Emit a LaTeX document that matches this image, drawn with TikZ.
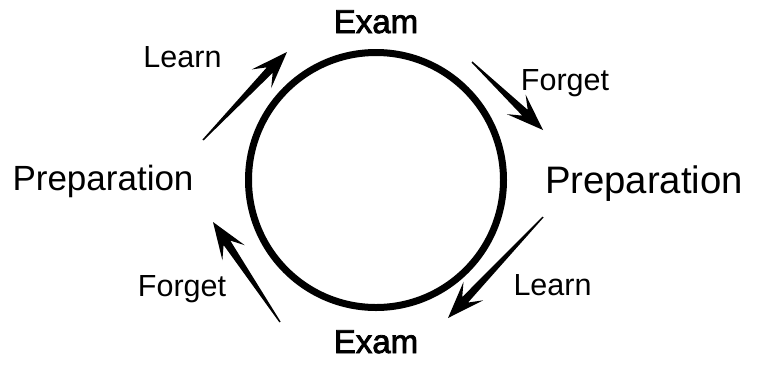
\documentclass[tikz,border=0pt]{standalone}
\usepackage{fontspec}
\setmainfont{Liberation Sans}
\newfontfamily\examfont[FakeBold=2.5]{Liberation Sans}
\usetikzlibrary{calc}
\tikzset{
  lbl/.style={anchor=base, inner sep=0pt, font=\fontsize{30.5}{36}\selectfont},
  exam/.style={anchor=base, inner sep=0pt, font=\examfont\fontsize{33}{40}\selectfont},
  prepL/.style={anchor=base, inner sep=0pt, font=\fontsize{35}{42}\selectfont},
  prepR/.style={anchor=base, inner sep=0pt, font=\fontsize{38.3}{45}\selectfont},
  ring/.style={draw=black, line width=7pt},
}
\newcommand{\taperarrow}[2]{%
  \fill[black] ($(#1)!0.7pt!90:(#2)$)
    -- ($(#2)!25pt!(#1)!4pt!-90:(#1)$)
    -- ($(#2)!37pt!(#1)!13.5pt!-90:(#1)$)
    -- (#2)
    -- ($(#2)!37pt!(#1)!13.5pt!90:(#1)$)
    -- ($(#2)!25pt!(#1)!4pt!90:(#1)$)
    -- ($(#1)!0.7pt!-90:(#2)$) -- cycle;}
\begin{document}
\begin{tikzpicture}[x=1pt,y=-1pt]
  \useasboundingbox (0,0) rectangle (766,365);
  \node[ring, circle, minimum size=255pt, inner sep=0pt] (cyc) at (376,180) {};
  \node[exam] (examT) at (376,33) {Exam};
  \node[exam] (examB) at (376,353) {Exam};
  \node[prepL] (prepL) at (103,190) {Preparation};
  \node[prepR] (prepR) at (644,193) {Preparation};
  \node[lbl] (learnT) at (182.5,67) {Learn};
  \node[lbl] (forgetT) at (565,90) {Forget};
  \node[lbl] (learnB) at (552.5,295) {Learn};
  \node[lbl] (forgetB) at (182,296) {Forget};
  \coordinate (a1s) at (203,140); \coordinate (a1e) at (287,52);
  \coordinate (a2s) at (472,62);  \coordinate (a2e) at (543,130);
  \coordinate (a3s) at (543,217); \coordinate (a3e) at (448,318);
  \coordinate (a4s) at (280,322); \coordinate (a4e) at (213,222);
  \taperarrow{a1s}{a1e}
  \taperarrow{a2s}{a2e}
  \taperarrow{a3s}{a3e}
  \taperarrow{a4s}{a4e}
\end{tikzpicture}
\end{document}
